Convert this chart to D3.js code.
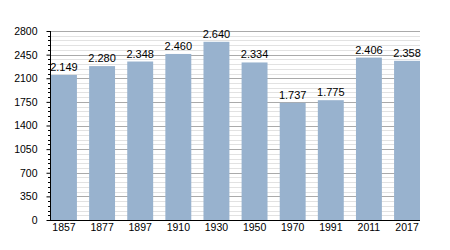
<!DOCTYPE html>
<html>
<head>
<meta charset="utf-8">
<script src="https://cdn.jsdelivr.net/npm/d3@7"></script>
<style>
  body { margin: 0; background: #fff; }
  text { font-family: "Liberation Sans", Arial, sans-serif; }
</style>
</head>
<body>
<div id="chart"></div>
<script>
const width = 450;
const height = 250;

// Data
const years = ['1857', '1877', '1897', '1910', '1930', '1950', '1970', '1991', '2011', '2017'];
const population = [2149, 2280, 2348, 2460, 2640, 2334, 1737, 1775, 2406, 2358];
const labels = ['2.149', '2.280', '2.348', '2.460', '2.640', '2.334', '1.737', '1.775', '2.406', '2.358'];
const yTicks = [0, 350, 700, 1050, 1400, 1750, 2100, 2450, 2800];

const plotLeft = 50, plotRight = 420, plotTop = 31, plotBottom = 220;

const svg = d3.select('#chart')
  .append('svg')
  .attr('width', width)
  .attr('height', height);

const x = d3.scaleBand()
  .domain(years)
  .range([plotLeft + 1, plotRight])
  .paddingInner(0.32)
  .paddingOuter(0);

const y = d3.scaleLinear()
  .domain([0, 2800])
  .range([plotBottom, plotTop]);

// Minor grid lines
const minor = d3.range(0, 2801, 70).filter(v => v % 350 !== 0);
svg.append('g')
  .selectAll('line')
  .data(minor)
  .enter()
  .append('line')
  .attr('x1', plotLeft)
  .attr('x2', plotRight)
  .attr('y1', d => Math.round(y(d)) + 0.5)
  .attr('y2', d => Math.round(y(d)) + 0.5)
  .attr('stroke', '#e2e2e2');

// Major grid lines
svg.append('g')
  .selectAll('line')
  .data(yTicks.filter(v => v > 0))
  .enter()
  .append('line')
  .attr('x1', plotLeft)
  .attr('x2', plotRight)
  .attr('y1', d => Math.round(y(d)) + 0.5)
  .attr('y2', d => Math.round(y(d)) + 0.5)
  .attr('stroke', '#aaaaaa');

// Bars
svg.selectAll('.bar')
  .data(population)
  .enter()
  .append('rect')
  .attr('class', 'bar')
  .attr('x', (d, i) => x(years[i]))
  .attr('y', d => y(d))
  .attr('width', x.bandwidth())
  .attr('height', d => plotBottom - y(d))
  .attr('fill', '#98b2ce');

// Value labels
svg.selectAll('.label')
  .data(population)
  .enter()
  .append('text')
  .attr('x', (d, i) => x(years[i]) + x.bandwidth() / 2)
  .attr('y', d => y(d) - 4)
  .attr('text-anchor', 'middle')
  .style('font-size', '11px')
  .text((d, i) => labels[i]);

// Y axis
const yAxis = d3.axisLeft(y).tickValues(yTicks).tickFormat(d3.format('d')).tickSize(4).tickPadding(9);
svg.append('g')
  .attr('transform', `translate(${plotLeft + 0.5},0)`)
  .call(yAxis)
  .call(g => g.select('.domain').remove())
  .call(g => g.selectAll('text').style('font-size', '10.5px').attr('font-family', null));

// Minor ticks
svg.append('g')
  .selectAll('line')
  .data(minor)
  .enter()
  .append('line')
  .attr('x1', plotLeft - 2)
  .attr('x2', plotLeft)
  .attr('y1', d => Math.round(y(d)) + 0.5)
  .attr('y2', d => Math.round(y(d)) + 0.5)
  .attr('stroke', '#000');

// Axis lines
svg.append('line')
  .attr('x1', plotLeft + 0.5).attr('x2', plotLeft + 0.5)
  .attr('y1', plotTop).attr('y2', plotBottom)
  .attr('stroke', '#000');
svg.append('line')
  .attr('x1', plotLeft).attr('x2', plotRight)
  .attr('y1', plotBottom + 0.5).attr('y2', plotBottom + 0.5)
  .attr('stroke', '#000');

// X axis labels
const xAxis = d3.axisBottom(x).tickSize(0).tickPadding(4);
svg.append('g')
  .attr('transform', `translate(0,${plotBottom})`)
  .call(xAxis)
  .call(g => g.select('.domain').remove())
  .call(g => g.selectAll('text').style('font-size', '10.5px').attr('font-family', null));
</script>
</body>
</html>
